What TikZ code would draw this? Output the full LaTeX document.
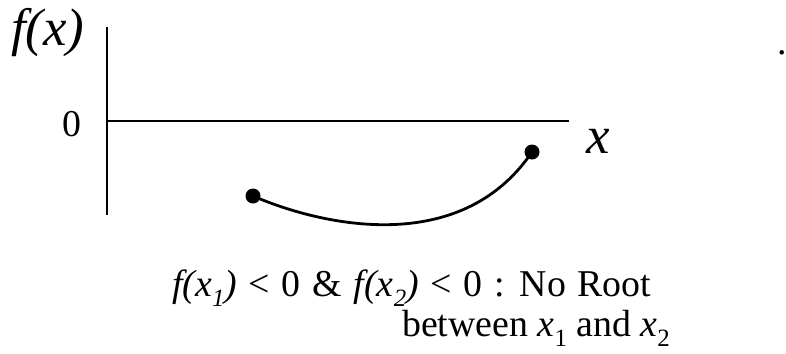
\documentclass[tikz,border=0pt]{standalone}
\usepackage{fontspec}
\setmainfont{Liberation Serif}
\newcommand{\lowsub}[1]{\raisebox{-0.28em}{\fontsize{25}{28}\selectfont #1}}
\begin{document}
\begin{tikzpicture}[x=1bp,y=-1bp,
  axisline/.style={line width=2.2bp},
  curveline/.style={line width=2.8bp},
  enddot/.style={circle,fill=black,inner sep=0pt,minimum size=15bp},
  lbl/.style={inner sep=0pt,font=\fontsize{38}{44}\selectfont},
  biglbl/.style={inner sep=0pt,font=\fontsize{53}{60}\selectfont\itshape}]
\useasboundingbox (0,0) rectangle (786,353);
% axes
\coordinate (ytop) at (107,27);
\coordinate (ybot) at (107,215);
\coordinate (xleft) at (107,121);
\coordinate (xright) at (569,121);
\draw[axisline] (ytop) -- (ybot);
\draw[axisline] (xleft) -- (xright);
% labels
\node[biglbl,anchor=base west] (fx) at (11,45) {f(x)};
\node[lbl,anchor=base] (zero) at (72,136) {0};
\node[biglbl,anchor=base] (xl) at (598,153) {x};
\node[lbl,anchor=base] (dotmark) at (782,54) {.};
% curve
\node[enddot] (p1) at (253,196) {};
\node[enddot] (p2) at (532,152) {};
\draw[curveline] (p1.center) .. controls (320,225) and (460,258) .. (p2.center);
% caption
\node[lbl,anchor=base west] (cap1) at (172,296)
  {\spaceskip=0.31em plus 0.1em\relax
   \textit{f(x\lowsub{1})} {<} 0 \& \textit{f(x\lowsub{2})} {<} 0 : No Root};
\node[lbl,anchor=base east] (cap2) at (670,336)
  {between \textit{x}\lowsub{1} and \textit{x}\lowsub{2}};
\end{tikzpicture}
\end{document}
